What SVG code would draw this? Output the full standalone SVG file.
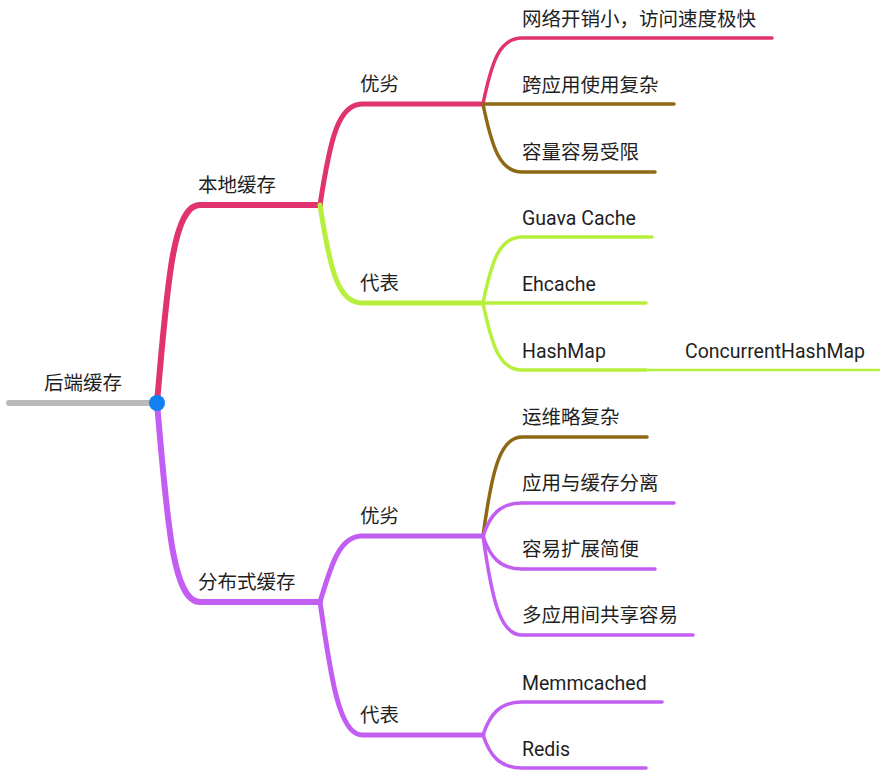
<svg xmlns="http://www.w3.org/2000/svg" width="892" height="774" viewBox="0 0 892 774">
<style>
text{font-family:Roboto,"Noto Sans CJK SC",sans-serif;font-size:19.5px;fill:#1f1f1f}
path{fill:none;stroke-linecap:round;stroke-linejoin:round}
.pk{stroke:#e1336d}.lm{stroke:#b6ef3c}.pu{stroke:#c35ef2}.br{stroke:#8e6915}.gr{stroke:#b9b9b9}
.w1{stroke-width:6}.w2{stroke-width:5}.w3{stroke-width:3.5}.w4{stroke-width:2.5}
</style>
<rect width="892" height="774" fill="#fff"/>
<g id="connectors">
<path class="gr w1" d="M9,403 L157,403"/>
<path class="pk w1" d="M157,403 C167,290 172,205 200,205 L320,205"/>
<path class="pu w1" d="M157,403 C167,516 172,602 200,602 L320,602"/>
<path class="pk w2" d="M320,205 C330,140 338,104 362,104 L483,104"/>
<path class="lm w2" d="M320,205 C330,270 338,303 362,303 L483,303"/>
<path class="pu w2" d="M320,602 C330,570 338,536 362,536 L483,536"/>
<path class="pu w2" d="M320,602 C330,670 338,735 362,735 L483,735"/>
<path class="pk w3" d="M483,104 C492,60 500,38 522,38 L772,38"/>
<path class="br w3" d="M483,104 L674,104"/>
<path class="br w3" d="M483,104 C492,148 500,172 522,172 L655,172"/>
<path class="lm w3" d="M483,303 C492,259 500,237 522,237 L652,237"/>
<path class="lm w3" d="M483,303 L646,303"/>
<path class="lm w3" d="M483,303 C492,347 500,370 522,370 L646,370"/>
<path class="lm w4" d="M646,370 L879,370"/>
<path class="br w3" d="M483,536 C492,470 500,437 522,437 L647,437"/>
<path class="pu w3" d="M483,536 C490,515 500,503 522,503 L674,503"/>
<path class="pu w3" d="M483,536 C490,557 500,569 522,569 L655,569"/>
<path class="pu w3" d="M483,536 C492,600 500,635 522,635 L693,635"/>
<path class="pu w3" d="M483,735 C490,714 500,702 522,702 L662,702"/>
<path class="pu w3" d="M483,735 C490,756 500,768 522,768 L646,768"/>
</g>
<g id="root"><text x="44" y="390">后端缓存</text><circle cx="157" cy="403" r="8" fill="#1380f2"/></g>
<g id="local"><text x="198" y="192">本地缓存</text></g>
<g id="dist"><text x="198" y="589">分布式缓存</text></g>
<g id="local-pros"><text x="360" y="91">优劣</text></g>
<g id="local-rep"><text x="360" y="290">代表</text></g>
<g id="dist-pros"><text x="360" y="523">优劣</text></g>
<g id="dist-rep"><text x="360" y="722">代表</text></g>
<g id="l1"><text x="522" y="26">网络开销小，访问速度极快</text></g>
<g id="l2"><text x="522" y="92">跨应用使用复杂</text></g>
<g id="l3"><text x="522" y="159">容量容易受限</text></g>
<g id="r1"><text x="522" y="225">Guava Cache</text></g>
<g id="r2"><text x="522" y="291">Ehcache</text></g>
<g id="r3"><text x="522" y="358">HashMap</text></g>
<g id="r4"><text x="685" y="358">ConcurrentHashMap</text></g>
<g id="d1"><text x="522" y="424">运维略复杂</text></g>
<g id="d2"><text x="522" y="490">应用与缓存分离</text></g>
<g id="d3"><text x="522" y="556">容易扩展简便</text></g>
<g id="d4"><text x="522" y="622">多应用间共享容易</text></g>
<g id="m1"><text x="522" y="690">Memmcached</text></g>
<g id="m2"><text x="522" y="756">Redis</text></g>
</svg>
